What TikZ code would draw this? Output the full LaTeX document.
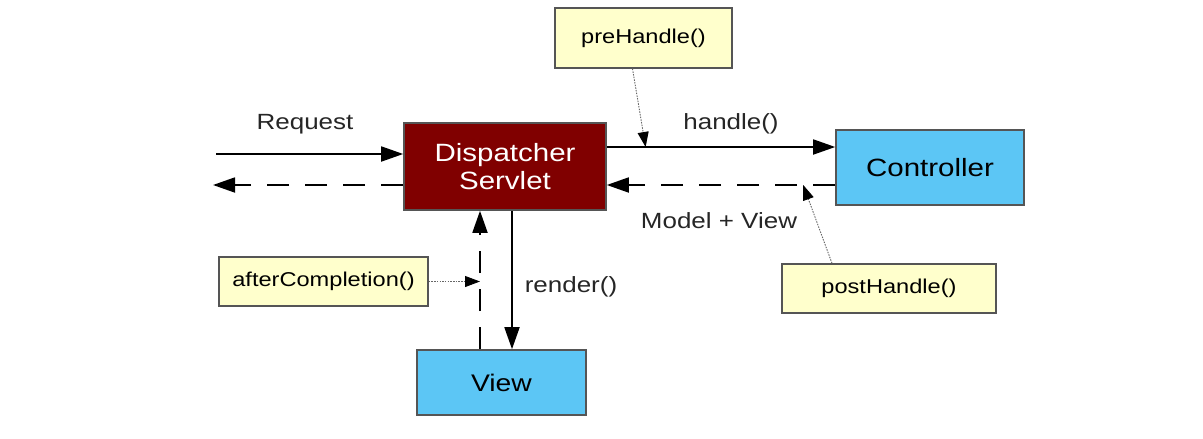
\documentclass[tikz,border=0pt]{standalone}
\usepackage{fontspec}
\setmainfont{Liberation Sans}
\newfontfamily\widesans[FakeStretch=1.18]{Liberation Sans}
\usetikzlibrary{arrows.meta}
\definecolor{servletred}{RGB}{128,0,0}
\definecolor{viewblue}{RGB}{92,198,245}
\definecolor{hookyellow}{RGB}{255,255,204}
\definecolor{edgegray}{RGB}{85,85,85}

\begin{document}
\begin{tikzpicture}[
  x=1pt,y=-1pt,
  comp/.style={draw=edgegray,line width=1.6pt,align=center,inner sep=0pt,font=\widesans\fontsize{25}{28}\selectfont},
  hook/.style={draw=edgegray,line width=1.4pt,fill=hookyellow,inner sep=0pt,font=\widesans\fontsize{20}{24}\selectfont},
  lbl/.style={font=\widesans\fontsize{22}{26}\selectfont,text=black!85},
  arr/.style={-{Triangle[length=22pt,width=15pt]},line width=1.8pt},
  retarr/.style={arr,dash pattern=on 22pt off 16pt},
  hookarr/.style={-{Triangle[length=15pt,width=11pt,color=black]},black!60,line width=0.9pt,dash pattern=on 1.5pt off 1.2pt}
]
  \useasboundingbox[fill=white] (0,0) rectangle (1203,439);
  % components
  \node[comp,fill=servletred,text=white,minimum width=202pt,minimum height=87pt] (srv) at (505,166.5) {Dispatcher\\Servlet};
  \node[comp,fill=viewblue,minimum width=188pt,minimum height=75pt] (ctl) at (930,167.5) {Controller};
  \node[comp,fill=viewblue,minimum width=169pt,minimum height=65pt,font=\widesans\fontsize{24}{28}\selectfont] (view) at (501.5,382.5) {View};
  % interceptor hooks
  \node[hook,minimum width=177pt,minimum height=60pt] (pre) at (643.5,38) {preHandle()};
  \node[hook,minimum width=214pt,minimum height=49pt] (post) at (889,288.5) {postHandle()};
  \node[hook,minimum width=209pt,minimum height=49pt] (after) at (323.5,281.5) {afterCompletion()};
  % request / response
  \coordinate (reqin) at (216,154);
  \coordinate (resout) at (213,185);
  \draw[arr] (reqin) -- (reqin -| srv.west);
  \draw[retarr] (srv.west |- resout) -- (resout);
  \node[lbl] (reqlbl) at (305,124) {Request};
  % controller
  \draw[arr] ([yshift=19.5pt]srv.east) -- ([yshift=19.5pt]srv.east -| ctl.west) coordinate[pos=0.17] (prehit);
  \draw[retarr] ([yshift=-17.5pt]ctl.west) -- ([yshift=-17.5pt]ctl.west -| srv.east) coordinate[pos=0.14] (posthit);
  \node[lbl] (handlelbl) at (731,124) {handle()};
  \node[lbl] (mvlbl) at (719,221) {Model + View};
  % view
  \draw[arr] ([xshift=7pt]srv.south) -- ([xshift=7pt]srv.south |- view.north);
  \draw[retarr] ([xshift=-25pt]srv.south |- view.north) -- ([xshift=-25pt]srv.south) coordinate[pos=0.5] (afterhit);
  \node[lbl] (renderlbl) at (571,287) {render()};
  % hook connectors
  \draw[hookarr] ([xshift=-11pt]pre.south) -- (prehit);
  \draw[hookarr] ([xshift=-57pt]post.north) -- (posthit);
  \draw[hookarr] (after.east) -- (after.east -| afterhit);
\end{tikzpicture}
\end{document}
